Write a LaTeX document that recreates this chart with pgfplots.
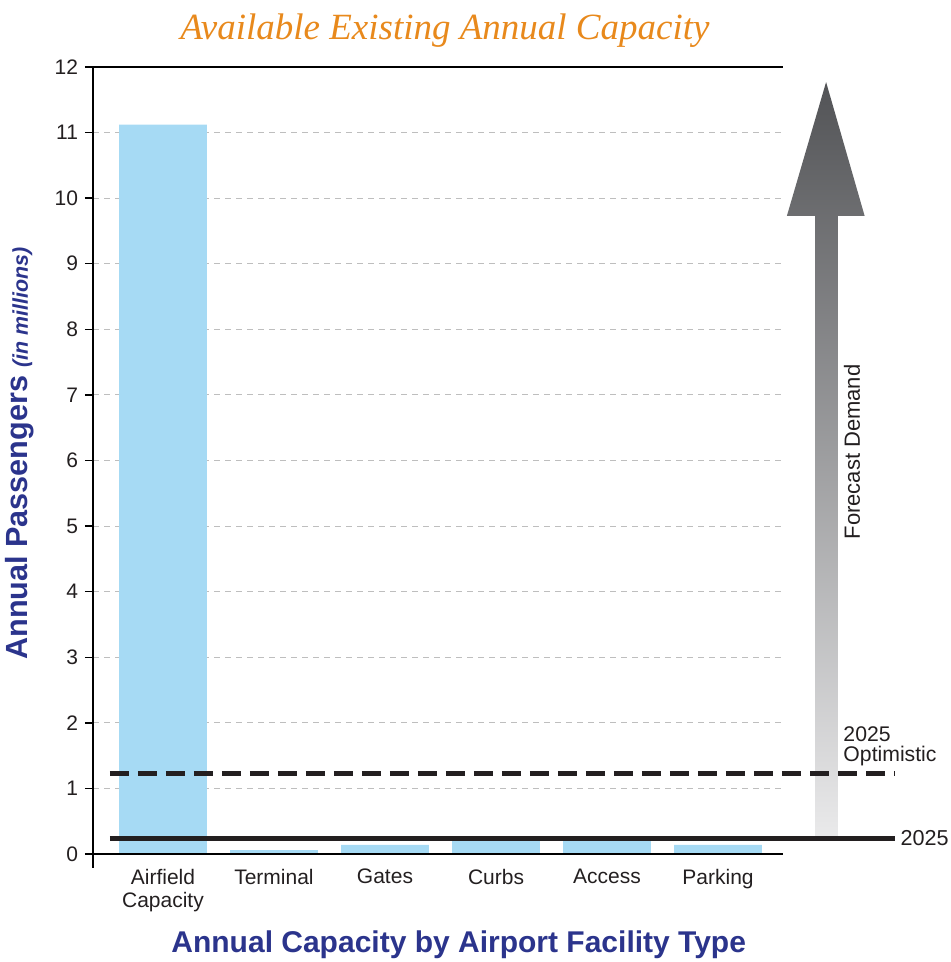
\documentclass[border=0pt]{standalone}
\usepackage{fontspec}
\setmainfont{Liberation Sans}
\newfontfamily\titlefont{Liberation Serif}
\usepackage{pgfplots}
\usetikzlibrary{calc}
\pgfplotsset{compat=1.18}
\definecolor{barblue}{RGB}{166,218,244}
\definecolor{labblue}{RGB}{43,52,140}
\definecolor{titleorange}{RGB}{232,137,28}
\definecolor{gridgray}{RGB}{190,190,190}
\definecolor{txt}{RGB}{35,31,32}
\definecolor{arrowdark}{RGB}{82,83,86}
\definecolor{arrowlight}{RGB}{234,234,235}
\begin{document}
\begin{tikzpicture}
\begin{axis}[
  name=ax,
  scale only axis,
  width=345pt, height=393.5pt,
  xmin=-0.63, xmax=5.585,
  ymin=0, ymax=12,
  ytick={0,...,12},
  xtick={0,...,5},
  xticklabels={{Airfield\\Capacity},Terminal,Gates,Curbs,Access,Parking},
  xticklabel style={align=center, font=\fontsize{10.5}{11.5}\selectfont, text=txt},
  yticklabel style={font=\fontsize{10.5}{12}\selectfont, text=txt},
  /pgf/number format/assume math mode=true,
  axis line style={draw=none},
  xtick style={draw=none},
  ytick style={black, line width=0.7pt},
  major tick length=4pt,
  tick align=outside,
  ytick pos=left,
  xtick pos=bottom,
  ymajorgrids,
  grid style={gridgray, dash pattern=on 3pt off 2.5pt, line width=0.5pt},
  clip=false,
]
\addplot[ybar, fill=barblue, draw=none, bar width=0.79]
  coordinates {(0,11.12) (1,0.06) (2,0.14) (3,0.22) (4,0.22) (5,0.14)};

\shade[top color=arrowdark, bottom color=arrowlight]
  (axis cs:5.874,0.23) -- (axis cs:5.874,9.73) -- (axis cs:5.62,9.73)
  -- (axis cs:5.973,11.77) -- (axis cs:6.32,9.73) -- (axis cs:6.08,9.73)
  -- (axis cs:6.08,0.23) -- cycle;

\addplot[txt, line width=2.5pt] coordinates {(-0.477,0.23) (6.595,0.23)};
\addplot[txt, line width=2.5pt, dash pattern=on 9.5pt off 4.5pt] coordinates {(-0.477,1.23) (6.595,1.23)};

\draw[black, line width=0.7pt] (rel axis cs:0,1) -- (rel axis cs:1,1);
\draw[black, line width=0.7pt] (rel axis cs:0,0) -- (rel axis cs:1,0);
\draw[black, line width=0.7pt] (rel axis cs:0,1) -- ([yshift=-7pt]rel axis cs:0,0);

\node[rotate=90, font=\fontsize{11}{13}\selectfont, text=txt] at (axis cs:6.207,6.13) {Forecast Demand};
\node[anchor=west, align=left, inner sep=0pt, font=\fontsize{10.6}{10}\selectfont, text=txt] at (axis cs:6.126,1.64) {2025\\Optimistic};
\node[anchor=west, inner sep=0pt, font=\fontsize{10.8}{12}\selectfont, text=txt] at (axis cs:6.64,0.25) {2025};
\end{axis}
\node[rotate=90, text=labblue, font=\fontsize{15.3}{18}\selectfont\bfseries] at ([xshift=-36.5pt]$(ax.south west)!0.509!(ax.north west)$) {Annual Passengers {\fontsize{10.7}{12}\selectfont\itshape (in millions)}};
\node[text=labblue, font=\fontsize{15}{18}\selectfont\bfseries] at ([yshift=-45.5pt]$(ax.south west)!0.53!(ax.south east)$) {Annual Capacity by Airport Facility Type};
\node[text=titleorange, font=\titlefont\fontsize{18.5}{22}\selectfont\itshape] at ([yshift=18pt]$(ax.north west)!0.51!(ax.north east)$) {Available Existing Annual Capacity};
\pgfresetboundingbox
\path[use as bounding box] ([xshift=-46.5pt,yshift=-54pt]ax.south west) rectangle ([xshift=428.5pt,yshift=427pt]ax.south west);
\end{tikzpicture}
\end{document}
